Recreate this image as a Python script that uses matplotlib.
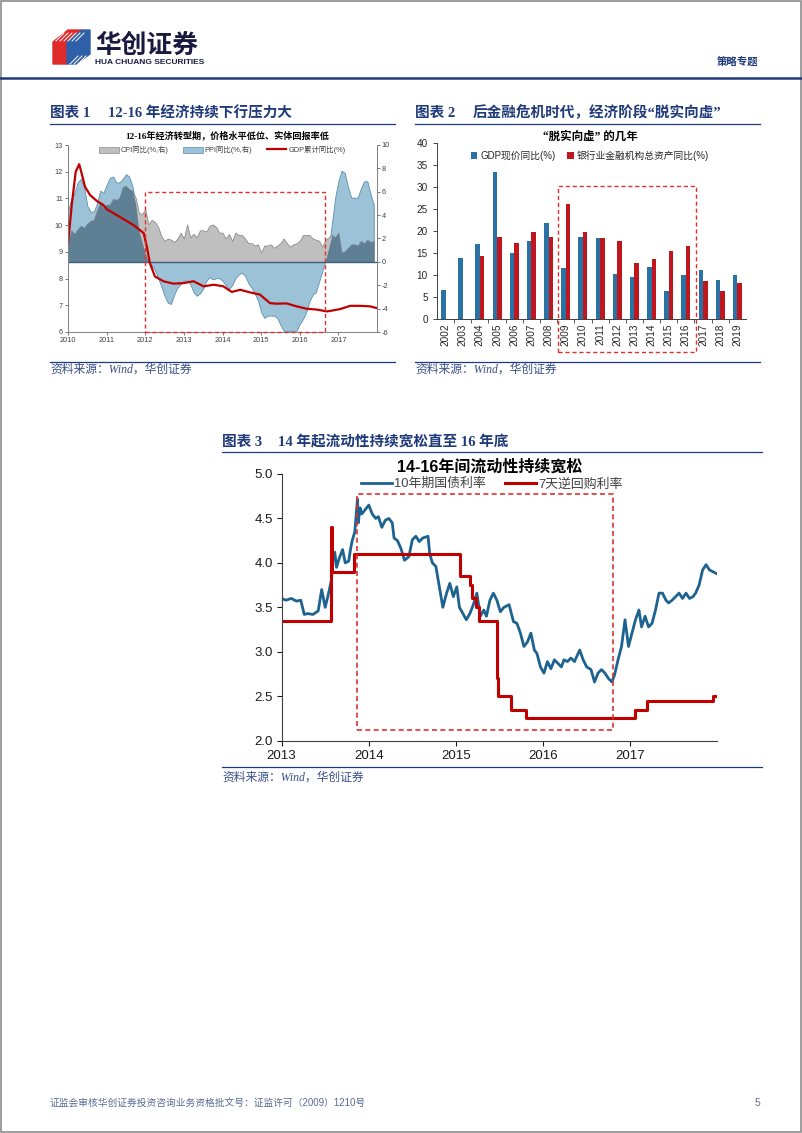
import matplotlib
matplotlib.use("Agg")
import matplotlib.pyplot as plt
import numpy as np
from matplotlib.patches import Rectangle, Polygon, Patch
from matplotlib.lines import Line2D

W, H = 802, 1133

# ---- chart 1: CPI / PPI (right axis, monthly 2010-01..2017-12), GDP cumulative (left axis)
months = 2010 + np.arange(96) / 12
cpi = [1.5, 2.7, 2.4, 2.8, 3.1, 2.9, 3.3, 3.5, 3.6, 4.4, 5.1, 4.6,
       4.9, 4.9, 5.4, 5.3, 5.5, 6.4, 6.5, 6.2, 6.1, 5.5, 4.2, 4.1,
       4.5, 3.2, 3.6, 3.4, 3.0, 2.2, 1.8, 2.0, 1.9, 1.7, 2.0, 2.5,
       2.0, 3.2, 2.1, 2.4, 2.1, 2.7, 2.7, 2.6, 3.1, 3.2, 3.0, 2.5,
       2.5, 2.0, 2.4, 1.8, 2.5, 2.3, 2.3, 2.0, 1.6, 1.6, 1.4, 1.5,
       0.8, 1.4, 1.4, 1.5, 1.2, 1.4, 1.6, 2.0, 1.6, 1.3, 1.5, 1.6,
       1.8, 2.3, 2.3, 2.3, 2.0, 1.9, 1.8, 1.3, 1.9, 2.1, 2.3, 2.1,
       2.5, 0.8, 0.9, 1.2, 1.5, 1.5, 1.4, 1.8, 1.6, 1.9, 1.7, 1.8]
ppi = [4.3, 5.4, 5.9, 6.8, 7.1, 6.4, 4.8, 4.3, 4.3, 5.0, 6.1, 5.9,
       6.6, 7.2, 7.3, 6.8, 6.8, 7.1, 7.5, 7.3, 6.5, 5.0, 2.7, 1.7,
       0.7, 0.0, -0.3, -0.7, -1.4, -2.1, -2.9, -3.5, -3.6, -2.8, -2.2, -1.9,
       -1.6, -1.6, -1.9, -2.6, -2.9, -2.7, -2.3, -1.6, -1.3, -1.5, -1.4, -1.4,
       -1.6, -2.0, -2.3, -2.0, -1.4, -1.1, -0.9, -1.2, -1.8, -2.2, -2.7, -3.3,
       -4.3, -4.8, -4.6, -4.6, -4.6, -4.8, -5.4, -5.9, -5.9, -5.9, -5.9, -5.9,
       -5.3, -4.9, -4.3, -3.4, -2.8, -2.6, -1.7, -0.8, 0.1, 1.2, 3.3, 5.5,
       6.9, 7.8, 7.6, 6.4, 5.5, 5.5, 5.5, 6.3, 6.9, 6.9, 5.8, 4.9]
gdp_t = [2010.00, 2010.10, 2010.20, 2010.29, 2010.36, 2010.44, 2010.57, 2010.75,
         2010.92, 2011.00, 2011.35, 2011.70, 2011.96, 2012.04, 2012.12, 2012.25,
         2012.47, 2012.73, 2012.99, 2013.25, 2013.51, 2013.77, 2014.02, 2014.24,
         2014.46, 2014.72, 2014.97, 2015.23, 2015.41, 2015.66, 2015.92, 2016.18,
         2016.44, 2016.70, 2016.87, 2017.05, 2017.31, 2017.56, 2017.82, 2017.98]
gdp_v = [9.3, 10.8, 12.0, 12.28, 11.9, 11.44, 11.13, 10.9,
         10.75, 10.6, 10.3, 10.0, 9.7, 9.2, 8.58, 8.08,
         7.9, 7.81, 7.83, 7.9, 7.71, 7.77, 7.71, 7.50,
         7.58, 7.48, 7.40, 7.08, 7.06, 7.07, 6.96, 6.87,
         6.84, 6.77, 6.81, 6.86, 6.98, 6.98, 6.96, 6.90]

# ---- chart 2: yearly bars
years2 = ["2002", "2003", "2004", "2005", "2006", "2007", "2008", "2009", "2010",
          "2011", "2012", "2013", "2014", "2015", "2016", "2017", "2018", "2019"]
gdp_nominal = [6.7, 13.9, 17.0, 33.5, 14.9, 17.8, 21.9, 11.6, 18.7,
               18.5, 10.2, 9.6, 11.9, 6.3, 10.0, 11.1, 8.8, 10.0]
bank_assets = [np.nan, np.nan, 14.3, 18.6, 17.3, 19.7, 18.6, 26.2, 19.7,
               18.3, 17.7, 12.8, 13.6, 15.5, 16.5, 8.6, 6.3, 8.1]

# ---- chart 3: 10y treasury yield and 7d reverse repo (decimal years)
bond_t = [2013.00, 2013.05, 2013.11, 2013.17, 2013.22, 2013.26, 2013.30, 2013.36,
          2013.42, 2013.46, 2013.50, 2013.53, 2013.57, 2013.59, 2013.61, 2013.63,
          2013.66, 2013.70, 2013.73, 2013.77, 2013.79, 2013.81, 2013.84, 2013.87,
          2013.88, 2013.90, 2013.92, 2013.96, 2014.00, 2014.04, 2014.08, 2014.11,
          2014.15, 2014.19, 2014.23, 2014.27, 2014.29, 2014.33, 2014.37, 2014.41,
          2014.46, 2014.50, 2014.54, 2014.58, 2014.62, 2014.68, 2014.70, 2014.73,
          2014.77, 2014.81, 2014.85, 2014.89, 2014.93, 2014.97, 2015.01, 2015.04,
          2015.08, 2015.12, 2015.16, 2015.20, 2015.24, 2015.28, 2015.32, 2015.35,
          2015.39, 2015.43, 2015.47, 2015.51, 2015.55, 2015.61, 2015.66, 2015.70,
          2015.74, 2015.78, 2015.82, 2015.86, 2015.90, 2015.93, 2015.97, 2016.01,
          2016.05, 2016.09, 2016.13, 2016.17, 2016.21, 2016.24, 2016.28, 2016.32,
          2016.36, 2016.42, 2016.46, 2016.50, 2016.55, 2016.59, 2016.63, 2016.67,
          2016.71, 2016.75, 2016.79, 2016.82, 2016.86, 2016.90, 2016.94, 2016.98,
          2017.02, 2017.06, 2017.10, 2017.13, 2017.17, 2017.21, 2017.25, 2017.29,
          2017.33, 2017.37, 2017.41, 2017.44, 2017.48, 2017.52, 2017.56, 2017.60,
          2017.64, 2017.68, 2017.72, 2017.75, 2017.79, 2017.83, 2017.87, 2017.91,
          2017.95, 2017.99]
bond_v = [3.60, 3.58, 3.60, 3.57, 3.58, 3.42, 3.43, 3.42,
          3.46, 3.70, 3.50, 3.62, 3.80, 4.05, 4.12, 3.95,
          4.05, 4.15, 4.00, 4.02, 4.15, 4.25, 4.35, 4.72,
          4.45, 4.62, 4.55, 4.60, 4.65, 4.55, 4.50, 4.52,
          4.40, 4.48, 4.50, 4.45, 4.28, 4.25, 4.16, 4.03,
          4.07, 4.26, 4.30, 4.24, 4.28, 4.30, 4.10, 4.00,
          3.96, 3.73, 3.50, 3.65, 3.77, 3.62, 3.73, 3.50,
          3.43, 3.36, 3.43, 3.53, 3.66, 3.40, 3.47, 3.40,
          3.58, 3.66, 3.58, 3.45, 3.50, 3.53, 3.34, 3.32,
          3.21, 3.06, 3.11, 3.21, 3.02, 2.98, 2.83, 2.76,
          2.89, 2.81, 2.91, 2.87, 2.83, 2.91, 2.89, 2.93,
          2.89, 3.02, 2.91, 2.83, 2.80, 2.66, 2.76, 2.80,
          2.76, 2.70, 2.66, 2.74, 2.91, 3.06, 3.36, 3.06,
          3.21, 3.36, 3.47, 3.28, 3.40, 3.28, 3.32, 3.47,
          3.66, 3.66, 3.58, 3.55, 3.58, 3.62, 3.66, 3.60,
          3.66, 3.60, 3.62, 3.66, 3.75, 3.92, 3.98, 3.92,
          3.90, 3.88]
repo_t = [2013.00, 2013.565, 2013.575, 2013.825, 2015.052, 2015.16, 2015.19,
          2015.23, 2015.269, 2015.47, 2015.48, 2015.636, 2015.807, 2017.057,
          2017.193, 2017.948, 2017.99]
repo_v = [3.35, 4.40, 3.90, 4.10, 3.85, 3.75, 3.60,
          3.50, 3.35, 2.70, 2.50, 2.35, 2.25, 2.35,
          2.45, 2.50, 2.50]

NAVY = "#1F3A7A"
SRC = "#3A4F8A"
RED = "#C00000"
DASH = "#E03030"
CJK = ["Liberation Sans", "Noto Sans CJK SC", "DejaVu Sans"]
SERIF = ["Liberation Serif", "Noto Sans CJK SC", "DejaVu Sans"]

plt.rcParams["font.family"] = CJK
plt.rcParams["axes.unicode_minus"] = False

fig = plt.figure(figsize=(W / 100, H / 100), dpi=100)
fig.patch.set_facecolor("white")


def add_ax(l, t, r, b):
    return fig.add_axes([l / W, 1 - b / H, (r - l) / W, (b - t) / H])


# ---- page furniture, drawn in pixel coordinates
page = fig.add_axes([0, 0, 1, 1])
page.set_xlim(0, W)
page.set_ylim(H, 0)
page.axis("off")
page.add_patch(Rectangle((0.8, 0.8), W - 1.6, H - 1.6, fill=False, ec="#8C8C8C", lw=1.2))

# logo
page.add_patch(Polygon([(53, 42), (68, 30), (82, 30), (67, 42), (67, 64), (53, 64)], color="#E02A2A"))
page.add_patch(Polygon([(67, 42), (82, 30), (90, 30), (90, 54), (76, 64), (67, 64)], color="#2E5FA8"))
for k in range(6):
    page.plot([56 + 4 * k, 64 + 4 * k], [41, 33], color="white", lw=0.7)
for k in range(5):
    page.plot([70 + 4 * k, 78 + 4 * k], [64, 56], color="white", lw=0.7)
page.text(95, 45, "华创证券", fontsize=18.5, fontweight="bold", color="#1A1A40",
          family=["Noto Sans CJK SC"], va="center", ha="left")
page.text(95, 62, "HUA CHUANG SECURITIES", fontsize=6, fontweight="bold",
          color="#1A1A40", va="center", ha="left")
page.text(758, 62, "策略专题", fontsize=7.5, fontweight="bold", color=NAVY,
          va="center", ha="right", family=["Noto Sans CJK SC"])
page.plot([0, W], [77.5, 77.5], color=NAVY, lw=1.8)

sections = [
    (50, 395, 113, 124, "图表 1", 108, "12-16 年经济持续下行压力大", 362, 370),
    (415, 760, 113, 124, "图表 2", 473, "后金融危机时代，经济阶段“脱实向虚”", 362, 370),
    (222, 762, 442, 452, "图表 3", 278, "14 年起流动性持续宽松直至 16 年底", 767, 778),
]
for x0, x1, ty, ly, tag, tx, title, sy, st in sections:
    page.text(x0, ty, tag, fontsize=10.5, fontweight="bold", color=NAVY,
              family=SERIF, va="center", ha="left")
    page.text(tx, ty, title, fontsize=10.5, fontweight="bold", color=NAVY,
              family=SERIF, va="center", ha="left")
    page.plot([x0, x1], [ly, ly], color=NAVY, lw=0.9)
    page.plot([x0, x1], [sy, sy], color=NAVY, lw=0.9)
    page.text(x0, st, "资料来源：Wind，华创证券", fontsize=8.5, style="italic",
              color=SRC, family=SERIF, va="center", ha="left")

page.text(50, 1103, "证监会审核华创证券投资咨询业务资格批文号：证监许可（2009）1210号",
          fontsize=7, color="#5A6A95", va="center", ha="left")
page.text(757, 1103, "5", fontsize=7.5, color="#5A6A95", va="center", ha="center")

# ---- chart 1
ax1 = add_ax(68, 145, 377, 332)
ax1r = ax1.twinx()
ax1r.fill_between(months, 0, ppi, color="#9CC2D8", ec="#5E8FAE", lw=0.6)
ax1r.fill_between(months, 0, cpi, color="#BFBFBF", ec="#8C8C8C", lw=0.6)
ax1r.fill_between(months, 0, np.clip(np.minimum(cpi, ppi), 0, None),
                  color="#5F7F95", lw=0)
ax1r.axhline(0, color="#3F5F75", lw=1.0)
ax1r.set_ylim(-6, 10)
ax1r.set_yticks(range(-6, 11, 2))
ax1.plot(gdp_t, gdp_v, color=RED, lw=1.6)
ax1.set_ylim(6, 13)
ax1.set_xlim(2010, 2018)
ax1.set_xticks(range(2010, 2018))
ax1.set_zorder(ax1r.get_zorder() + 1)
ax1.patch.set_visible(False)
ax1.add_patch(Rectangle((2012.0, 6.0), 4.66, 5.23, fill=False, ec=DASH,
                        lw=1.0, ls=(0, (3, 2)), clip_on=False, zorder=5))
for a in (ax1, ax1r):
    a.tick_params(labelsize=5.3, length=2, width=0.5, colors="#404040", pad=1.5)
    a.spines["top"].set_visible(False)
    for s in a.spines.values():
        s.set_color("#808080")
        s.set_linewidth(0.6)
page.text(227, 135, "12-16年经济转型期，价格水平低位、实体回报率低", fontsize=6.6,
          fontweight="bold", va="center", ha="center", family=SERIF)
h1 = [Patch(fc="#BFBFBF", ec="#8C8C8C", lw=0.5),
      Patch(fc="#9CC2D8", ec="#5E8FAE", lw=0.5),
      Line2D([], [], color=RED, lw=1.6)]
ax1.legend(h1, ["CPI同比(%,右)", "PPI同比(%,右)", "GDP累计同比(%)"], ncol=3,
           loc="center", bbox_to_anchor=(0.5, 0.973), frameon=False, fontsize=5.3,
           handlelength=2.6, handleheight=0.9, columnspacing=2.0, handletextpad=0.3,
           labelcolor="#404040")

# ---- chart 2
ax2 = add_ax(437, 143, 746, 319)
x2 = np.arange(len(years2))
bw = 0.26
ax2.bar(x2 - bw / 2, gdp_nominal, bw, color="#2A72A3", label="GDP现价同比(%)")
ax2.bar(x2 + bw / 2, bank_assets, bw, color="#C0161E", label="银行业金融机构总资产同比(%)")
ax2.set_xlim(-0.5, 17.5)
ax2.set_ylim(0, 40)
ax2.set_yticks(range(0, 41, 5))
ax2.set_xticks(x2)
ax2.set_xticklabels(years2, rotation=90)
ax2.set_xticks(x2[:-1] + 0.5, minor=True)
ax2.tick_params(axis="x", which="major", length=0, pad=3)
ax2.tick_params(axis="x", which="minor", length=3, width=0.6, color="#404040")
ax2.tick_params(axis="y", length=3, width=0.6)
ax2.tick_params(labelsize=7.2, colors="#262626")
ax2.tick_params(axis="x", which="minor", colors="#404040")
for s in ("top", "right"):
    ax2.spines[s].set_visible(False)
for s in ("left", "bottom"):
    ax2.spines[s].set_color("#404040")
    ax2.spines[s].set_linewidth(0.7)
ax2.add_patch(Rectangle((6.55, -7.5), 8.04, 37.7, fill=False, ec=DASH,
                        lw=1.0, ls=(0, (3, 2)), clip_on=False, zorder=5))
ax2.legend(ncol=2, loc="center", bbox_to_anchor=(0.495, 0.93), frameon=False,
           fontsize=7, handlelength=0.7, handleheight=0.7, columnspacing=1.2,
           handletextpad=0.3, labelcolor="#262626")
page.text(590, 137, "“脱实向虚” 的几年", fontsize=8.3, fontweight="bold",
          va="center", ha="center", family=SERIF)

# ---- chart 3
ax3 = add_ax(281.6, 474, 717.4, 740.7)
ax3.plot(bond_t, bond_v, color="#1E6390", lw=2.0, label="10年期国债利率")
ax3.plot(repo_t, repo_v, color=RED, lw=2.2, drawstyle="steps-post", label="7天逆回购利率")
ax3.set_xlim(2013, 2018)
ax3.set_ylim(2.0, 5.0)
ax3.set_yticks(np.arange(2.0, 5.01, 0.5))
ax3.set_yticklabels([f"{v:.1f}" for v in np.arange(2.0, 5.01, 0.5)])
ax3.set_xticks(range(2013, 2018))
ax3.tick_params(labelsize=9.5, length=3.5, width=0.8, colors="#1A1A1A", pad=3)
for s in ("top", "right"):
    ax3.spines[s].set_visible(False)
for s in ("left", "bottom"):
    ax3.spines[s].set_color("#404040")
    ax3.spines[s].set_linewidth(0.8)
ax3.add_patch(Rectangle((2013.865, 2.12), 2.932, 2.655, fill=False, ec=DASH,
                        lw=1.2, ls=(0, (3, 2)), clip_on=False, zorder=5))
ax3.legend(ncol=2, loc="center", bbox_to_anchor=(0.483, 0.962), frameon=False,
           fontsize=9.3, handlelength=2.4, columnspacing=1.5, handletextpad=0.15,
           labelcolor="#404040")
page.text(490, 467, "14-16年间流动性持续宽松", fontsize=11.5, fontweight="bold",
          va="center", ha="center")

fig.savefig("out.png", dpi=100)
